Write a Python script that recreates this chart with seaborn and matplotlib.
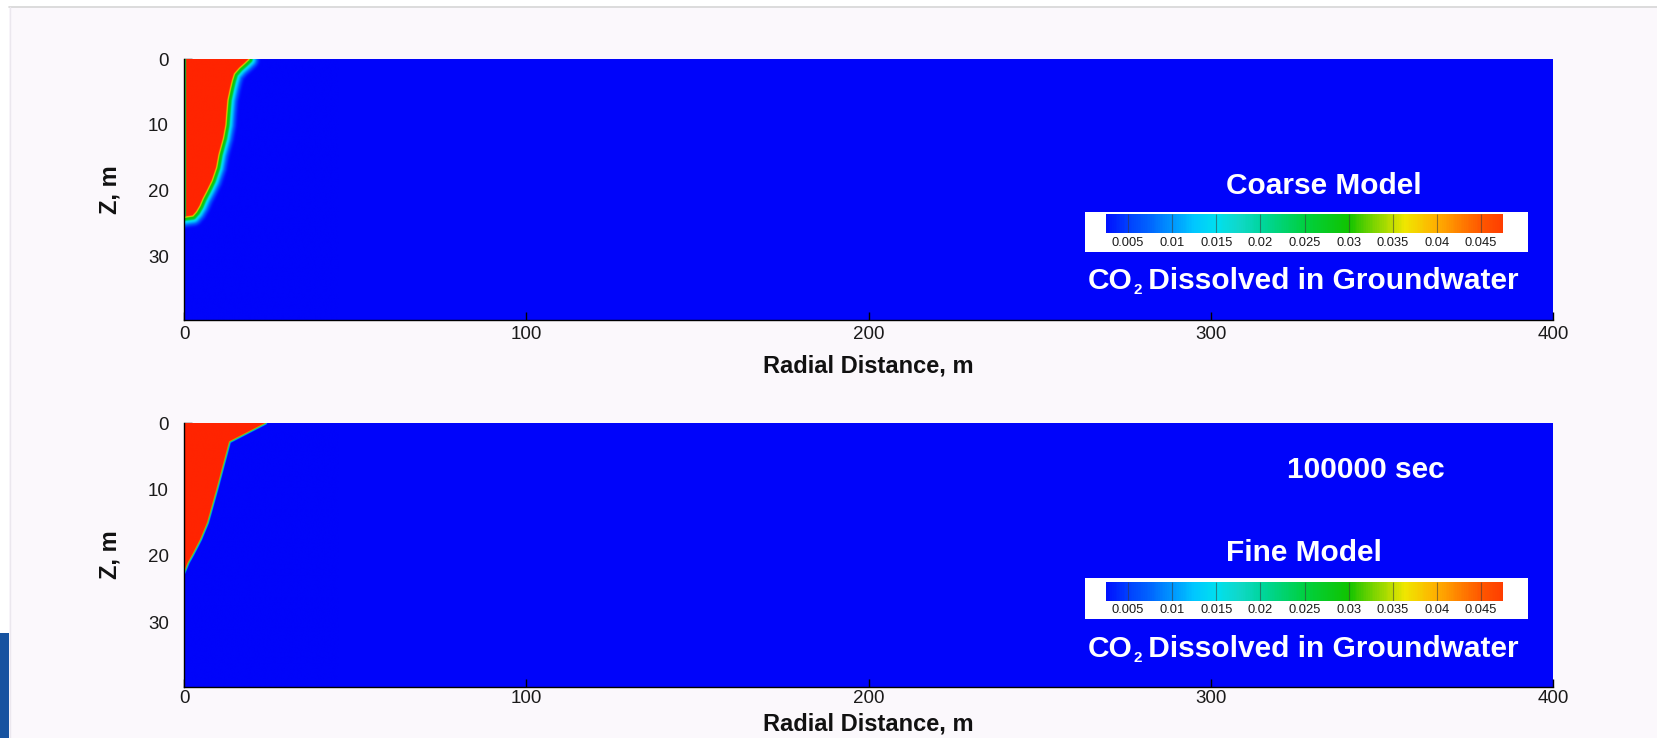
import numpy as np
import matplotlib
matplotlib.use("Agg")
import matplotlib.pyplot as plt
from matplotlib.colors import LinearSegmentedColormap, Normalize
from matplotlib.path import Path
from matplotlib.patches import Rectangle
from matplotlib.lines import Line2D
import seaborn as sns

# ---------------------------------------------------------------------------
# Data: dissolved-CO2 plume front (radial distance r [m] at depth z [m])
# ---------------------------------------------------------------------------
coarse_front_r = [18.7, 17.5, 16.0, 14.5, 13.9, 13.3, 12.6, 12.3, 12.0, 11.3,
                  10.0, 9.3, 8.0, 6.6, 5.4, 4.5, 3.5, 2.5, 0.0]
coarse_front_z = [0.0, 0.6, 1.3, 2.2, 3.2, 4.5, 6.2, 8.0, 10.0, 12.0,
                  14.5, 16.5, 18.5, 20.0, 21.2, 22.3, 23.2, 23.8, 24.0]

fine_front_r = [23.7, 13.2, 9.5, 6.8, 4.8, 2.5, 1.2, 0.0]
fine_front_z = [0.0, 2.8, 10.0, 15.0, 17.5, 19.8, 21.0, 22.5]

# concentration inside the plume and in the well column of the coarse grid
plume_conc = 0.05
coarse_axis_conc = 0.026
coarse_axis_r = 0.6

# concentration across the front vs. distance from it (screen px)
coarse_edge_px = [-0.5, 0.5, 1.5, 3.5, 5.0, 9.0, 13.0]
coarse_edge_c = [0.05, 0.038, 0.030, 0.027, 0.015, 0.006, 0.0]
fine_edge_px = [-0.6, 0.2, 0.9, 1.8]
fine_edge_c = [0.05, 0.03, 0.014, 0.0]

# colour legend
cbar_lo, cbar_hi = 0.0025, 0.0475
cbar_ticks = [0.005, 0.01, 0.015, 0.02, 0.025, 0.03, 0.035, 0.04, 0.045]
cbar_ticklabels = ["0.005", "0.01", "0.015", "0.02", "0.025", "0.03",
                   "0.035", "0.04", "0.045"]

x_ticks = [0, 100, 200, 300, 400]
z_ticks = [0, 10, 20, 30]
r_max, z_max = 400, 39.7

# ---------------------------------------------------------------------------
# Style
# ---------------------------------------------------------------------------
sns.set_theme(style="ticks")
plt.rcParams["font.family"] = ["Liberation Sans", "DejaVu Sans"]

jet_stops = [
    (0.000, "#0004fa"), (0.0025, "#0012ff"), (0.005, "#0040ff"),
    (0.0075, "#0068ff"), (0.010, "#0098ff"), (0.0125, "#00c8ff"),
    (0.015, "#00e0ee"), (0.0175, "#10d8c8"), (0.020, "#00d6a0"),
    (0.025, "#00d040"), (0.030, "#10c400"), (0.033, "#80d400"),
    (0.0365, "#f0e600"), (0.040, "#ffb000"), (0.045, "#ff5800"),
    (0.050, "#ff2400"),
]
cmap = LinearSegmentedColormap.from_list(
    "co2", [(v / 0.05, c) for v, c in jet_stops])
norm = Normalize(0.0, 0.05)

W, H = 1657, 738
BG = "#fbf8fc"
fig = plt.figure(figsize=(W / 100, H / 100), dpi=100, facecolor=BG)


def fig_rect(x0, y0, x1, y1):
    """pixel box (top-left origin) -> figure fraction rect"""
    return [x0 / W, 1 - y1 / H, (x1 - x0) / W, (y1 - y0) / H]


# page decorations
fig.patches.append(Rectangle((0, 1 - 7 / H), 1, 7 / H, transform=fig.transFigure,
                             facecolor="white", edgecolor="none", zorder=-5))
fig.patches.append(Rectangle((0, 0), 9 / W, 1, transform=fig.transFigure,
                             facecolor="white", edgecolor="none", zorder=-5))
fig.patches.append(Rectangle((0, 0), 9 / W, 1 - 633 / H, transform=fig.transFigure,
                             facecolor="#1753a0", edgecolor="none", zorder=-4))
fig.lines.append(Line2D([9 / W, 1], [1 - 7 / H, 1 - 7 / H], transform=fig.transFigure,
                        color="#d6d6d6", lw=1.2))
fig.lines.append(Line2D([10 / W, 10 / W], [0, 1 - 7 / H], transform=fig.transFigure,
                        color="#ebe7ee", lw=1.0))


def plume_field(front_r, front_z, edge_px, edge_c, sx, sy):
    r = np.linspace(0, 45, 901)
    z = np.linspace(0, z_max, 795)
    R, Z = np.meshgrid(r, z)
    X, Y = R * sx, Z * sy
    pr = np.asarray(front_r) * sx
    pz = np.asarray(front_z) * sy
    d = np.full(X.shape, np.inf)
    for i in range(len(pr) - 1):
        ax0, ay0 = pr[i], pz[i]
        dx, dy = pr[i + 1] - ax0, pz[i + 1] - ay0
        t = np.clip(((X - ax0) * dx + (Y - ay0) * dy) / (dx * dx + dy * dy), 0, 1)
        d = np.minimum(d, np.hypot(X - ax0 - t * dx, Y - ay0 - t * dy))
    verts = ([(-1, -1), (front_r[0], -1)] + list(zip(front_r, front_z))
             + [(-1, front_z[-1]), (-1, -1)])
    inside = Path(verts).contains_points(
        np.column_stack([R.ravel(), Z.ravel()])).reshape(R.shape)
    signed = np.where(inside, -d, d)
    C = np.interp(signed, edge_px, edge_c)
    return C, R, inside


def draw_panel(rect, front_r, front_z, edge_px, edge_c, axis_col, tick_pad, xlabel_y):
    ax = fig.add_axes(rect)
    ax_w = rect[2] * W
    ax_h = rect[3] * H
    sx, sy = ax_w / r_max, ax_h / z_max
    C, R, inside = plume_field(front_r, front_z, edge_px, edge_c, sx, sy)
    if axis_col:
        C = np.where(inside & (R < coarse_axis_r), coarse_axis_conc, C)
    ax.set_facecolor(cmap(0.0))
    ax.imshow(C * plume_conc / 0.05, extent=[0, 45, z_max, 0], origin="upper",
              aspect="auto", cmap=cmap, norm=norm, interpolation="bilinear",
              zorder=1)
    ax.set_xlim(0, r_max)
    ax.set_ylim(z_max, 0)
    ax.set_xticks(x_ticks)
    ax.set_yticks(z_ticks)
    for s in ("top", "right"):
        ax.spines[s].set_visible(False)
    for s in ("left", "bottom"):
        ax.spines[s].set_color("black")
        ax.spines[s].set_linewidth(1.0)
        ax.spines[s].set_zorder(3)
    ax.tick_params(axis="both", direction="in", length=6, width=1, color="black",
                   labelsize=13.5, labelcolor="#1a1a1a")
    ax.tick_params(axis="x", pad=tick_pad)
    ax.tick_params(axis="y", pad=11)
    ax.set_xlabel("Radial Distance, m", fontsize=17, fontweight="bold", color="#111111")
    ax.xaxis.set_label_coords(0.5, xlabel_y)
    ax.set_ylabel("Z, m", fontsize=17, fontweight="bold", color="#111111", va="center")
    ax.yaxis.set_label_coords(-0.054, 0.5)
    ax.grid(False)
    return ax


def draw_legend(box_px, bar_px):
    box = fig.add_axes(fig_rect(*box_px))
    box.set_facecolor("white")
    box.set_xticks([])
    box.set_yticks([])
    for s in box.spines.values():
        s.set_visible(False)
    bar = fig.add_axes(fig_rect(*bar_px))
    n = 450
    strip = np.linspace(cbar_lo, cbar_hi, n)[None, :]
    sns.heatmap(strip, ax=bar, cmap=cmap, vmin=0.0, vmax=0.05, cbar=False,
                xticklabels=False, yticklabels=False)
    pos = [(v - cbar_lo) / (cbar_hi - cbar_lo) * n for v in cbar_ticks]
    bar.vlines(pos, 0, 1, color="#3a3a3a", lw=0.8, alpha=0.55)
    bar.set_xticks(pos)
    bar.set_xticklabels(cbar_ticklabels, rotation=0)
    bar.tick_params(axis="x", length=0, pad=2.5, labelsize=9.3, labelcolor="#1a1a1a",
                    bottom=True)
    bar.set_yticks([])
    for s in bar.spines.values():
        s.set_visible(False)
    return bar


def co2_title(x_px, base_px):
    """'CO2 Dissolved in Groundwater' with a small lowered subscript"""
    big = dict(color="white", fontsize=21.5, fontweight="bold", va="baseline")
    t1 = fig.text(x_px / W, 1 - base_px / H, "CO", ha="left", **big)
    fig.canvas.draw_idle()
    r = fig.canvas.get_renderer()
    x1 = t1.get_window_extent(r).x1
    fig.text(x1 / W + 0.5 / W, 1 - (base_px + 5) / H, "2", ha="left",
             color="white", fontsize=11, fontweight="bold", va="baseline")
    fig.text(x1 / W + 7.5 / W, 1 - base_px / H, " Dissolved in Groundwater",
             ha="left", **big)


# top panel: coarse grid
draw_panel(fig_rect(184, 59, 1553, 320), coarse_front_r, coarse_front_z,
           coarse_edge_px, coarse_edge_c, True, 4.5, -0.132)
draw_legend((1085, 211.7, 1528, 252.3), (1106, 214, 1503, 233.3))

# bottom panel: fine grid
draw_panel(fig_rect(184, 423, 1553, 687), fine_front_r, fine_front_z,
           fine_edge_px, fine_edge_c, False, 2.2, -0.0955)
draw_legend((1085, 578.3, 1528, 619.3), (1106, 581.7, 1503, 600.7))

txt = dict(color="white", fontsize=21.5, fontweight="bold", ha="left", va="baseline")
fig.text(1226 / W, 1 - 194.5 / H, "Coarse Model", **txt)
fig.text(1287 / W, 1 - 478.3 / H, "100000 sec", **txt)
fig.text(1226 / W, 1 - 560.7 / H, "Fine Model", **txt)
co2_title(1088, 289)
co2_title(1088, 656.7)

fig.savefig("out.png", dpi=100, facecolor=BG)
